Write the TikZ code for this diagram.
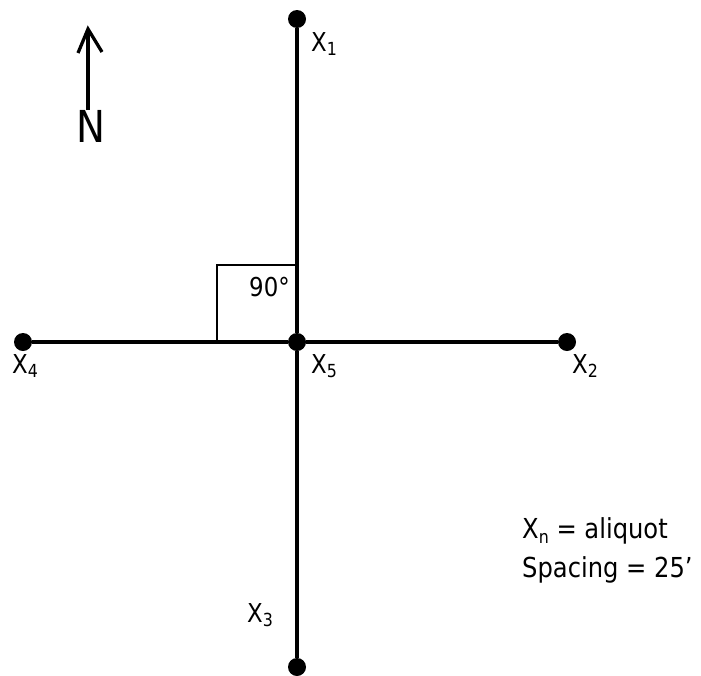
\documentclass[tikz,border=0pt]{standalone}
\usepackage{fontspec}
\setmainfont[FakeStretch=0.88]{DejaVu Sans}
\newcommand{\sbx}[1]{\raisebox{-0.18em}{\fontsize{18}{18}\selectfont #1}}
\begin{document}
\begin{tikzpicture}[x=1pt,y=-1pt,
  dotnode/.style={circle,fill=black,inner sep=0pt,minimum size=18pt},
  lbl/.style={inner sep=0pt,anchor=west,font=\fontsize{26}{30}\selectfont},
  leg/.style={inner sep=0pt,anchor=west,font=\fontsize{27.5}{30}\selectfont},
  conn/.style={line width=3.3pt}]
\useasboundingbox (0,0) rectangle (701,675);
% points
\node[dotnode] (x1) at (297,19) {};
\node[dotnode] (x2) at (567,342) {};
\node[dotnode] (x3) at (297,667) {};
\node[dotnode] (x4) at (23,342) {};
\node[dotnode] (x5) at (297,342) {};
% lines
\draw[conn] (x1) -- (x5) -- (x3);
\draw[conn] (x4) -- (x5) -- (x2);
% right-angle mark
\coordinate (ra1) at (217,342);
\coordinate (ra2) at (217,265);
\coordinate (ra3) at (297,265);
\draw[line width=2.8pt] (ra1) -- (ra2) -- (ra3);
\node[lbl] (ang) at (249,287) {90°};
% labels
\node[lbl] (l1) at (311,44) {X\sbx{1}};
\node[lbl] (l5) at (311,366) {X\sbx{5}};
\node[lbl] (l4) at (12,366) {X\sbx{4}};
\node[lbl] (l2) at (572,366) {X\sbx{2}};
\node[lbl] (l3) at (247,615) {X\sbx{3}};
% legend
\node[leg] (leg1) at (522,531) {X\sbx{n} = aliquot};
\node[leg] (leg2) at (522,570) {Spacing = 25'};
% north arrow
\node[inner sep=0pt,font=\fontsize{44}{44}\selectfont] (N) at (91,126) {N};
\coordinate (ntip) at (88,29);
\coordinate (nbase) at (88,110);
\draw[line width=3.3pt] (nbase) -- (ntip);
\coordinate (al) at (78,53);
\coordinate (ar) at (102,52);
\draw[line width=3.3pt,line join=miter] (al) -- (ntip) -- (ar);
\end{tikzpicture}
\end{document}
